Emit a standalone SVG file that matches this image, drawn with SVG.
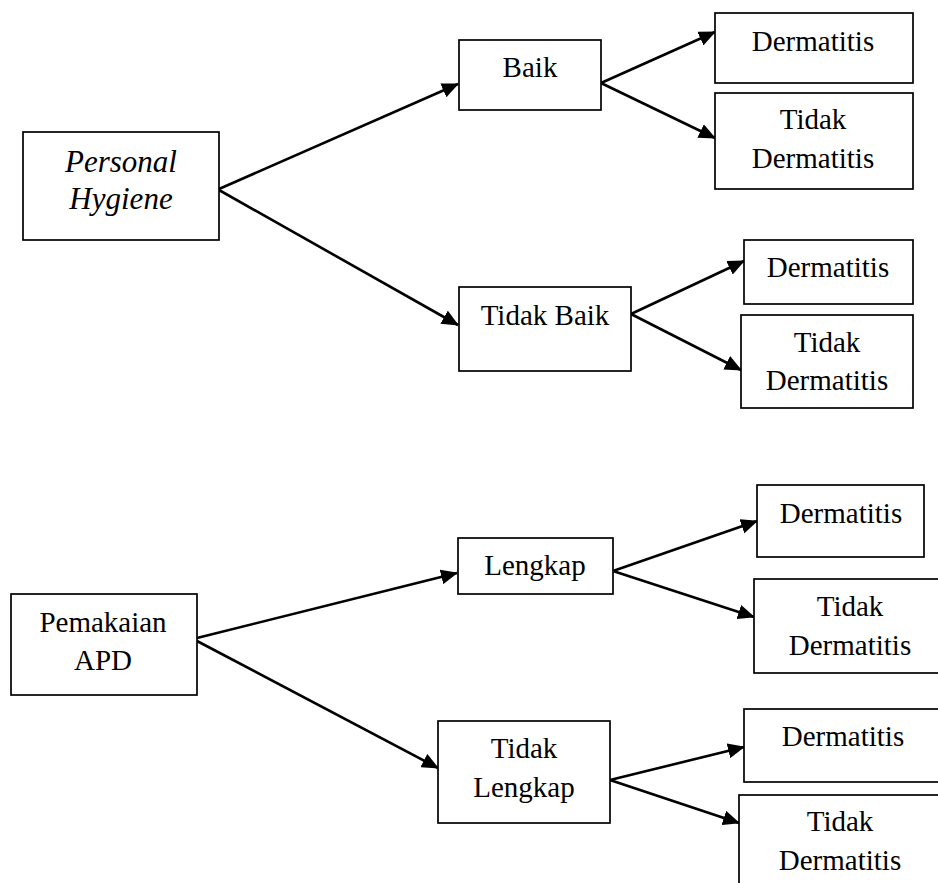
<svg xmlns="http://www.w3.org/2000/svg" width="938" height="883" viewBox="0 0 938 883">
<style>
.box{fill:#fff;stroke:#000;stroke-width:1.7}
.t{font-family:"Liberation Serif","Times New Roman",serif;font-size:29px;fill:#000;text-anchor:middle}
.it{font-style:italic;font-size:31px}
.c{stroke:#000;stroke-width:2.6;fill:none;marker-end:url(#ah)}
</style>
<defs>
<marker id="ah" markerUnits="userSpaceOnUse" markerWidth="17" markerHeight="15" refX="16" refY="7.5" orient="auto">
<path d="M0,0 L17,7.5 L0,15 z" fill="#000"/>
</marker>
</defs>
<g id="connectors">
<line class="c" x1="219" y1="189" x2="458" y2="84"/>
<line class="c" x1="219" y1="190" x2="458" y2="325"/>
<line class="c" x1="601" y1="83" x2="715" y2="32"/>
<line class="c" x1="601" y1="83" x2="715" y2="138"/>
<line class="c" x1="631" y1="314" x2="744" y2="261"/>
<line class="c" x1="631" y1="314" x2="741" y2="370"/>
<line class="c" x1="197" y1="638" x2="457" y2="573"/>
<line class="c" x1="197" y1="641" x2="438" y2="768"/>
<line class="c" x1="613" y1="571" x2="757" y2="521"/>
<line class="c" x1="613" y1="571" x2="754" y2="617"/>
<line class="c" x1="610" y1="780" x2="744" y2="747"/>
<line class="c" x1="610" y1="780" x2="739" y2="823"/>
</g>
<g id="personal-hygiene">
<rect class="box" x="23" y="132" width="196" height="108"/>
<text class="t it" x="121" y="172">Personal</text>
<text class="t it" x="121" y="209">Hygiene</text>
</g>
<g id="baik">
<rect class="box" x="459" y="40" width="142" height="70"/>
<text class="t" x="530" y="77">Baik</text>
</g>
<g id="derm1">
<rect class="box" x="715" y="13" width="198" height="70"/>
<text class="t" x="813" y="51">Dermatitis</text>
</g>
<g id="tdderm1">
<rect class="box" x="715" y="93" width="198" height="96"/>
<text class="t" x="813" y="129">Tidak</text>
<text class="t" x="813" y="168">Dermatitis</text>
</g>
<g id="tidak-baik">
<rect class="box" x="459" y="287" width="172" height="84"/>
<text class="t" x="545" y="325">Tidak Baik</text>
</g>
<g id="derm2">
<rect class="box" x="744" y="240" width="169" height="64"/>
<text class="t" x="828" y="277">Dermatitis</text>
</g>
<g id="tdderm2">
<rect class="box" x="741" y="315" width="172" height="93"/>
<text class="t" x="827" y="352">Tidak</text>
<text class="t" x="827" y="390">Dermatitis</text>
</g>
<g id="pemakaian-apd">
<rect class="box" x="11" y="594" width="186" height="101"/>
<text class="t" x="103" y="632">Pemakaian</text>
<text class="t" x="103" y="670">APD</text>
</g>
<g id="lengkap">
<rect class="box" x="458" y="538" width="155" height="56"/>
<text class="t" x="535" y="575">Lengkap</text>
</g>
<g id="derm3">
<rect class="box" x="757" y="485" width="167" height="72"/>
<text class="t" x="841" y="523">Dermatitis</text>
</g>
<g id="tdderm3">
<rect class="box" x="754" y="579" width="200" height="94"/>
<text class="t" x="850" y="616">Tidak</text>
<text class="t" x="850" y="655">Dermatitis</text>
</g>
<g id="tidak-lengkap">
<rect class="box" x="438" y="721" width="172" height="102"/>
<text class="t" x="524" y="758">Tidak</text>
<text class="t" x="524" y="797">Lengkap</text>
</g>
<g id="derm4">
<rect class="box" x="744" y="709" width="210" height="73"/>
<text class="t" x="843" y="746">Dermatitis</text>
</g>
<g id="tdderm4">
<rect class="box" x="739" y="795" width="215" height="110"/>
<text class="t" x="840" y="831">Tidak</text>
<text class="t" x="840" y="870">Dermatitis</text>
</g>
</svg>
